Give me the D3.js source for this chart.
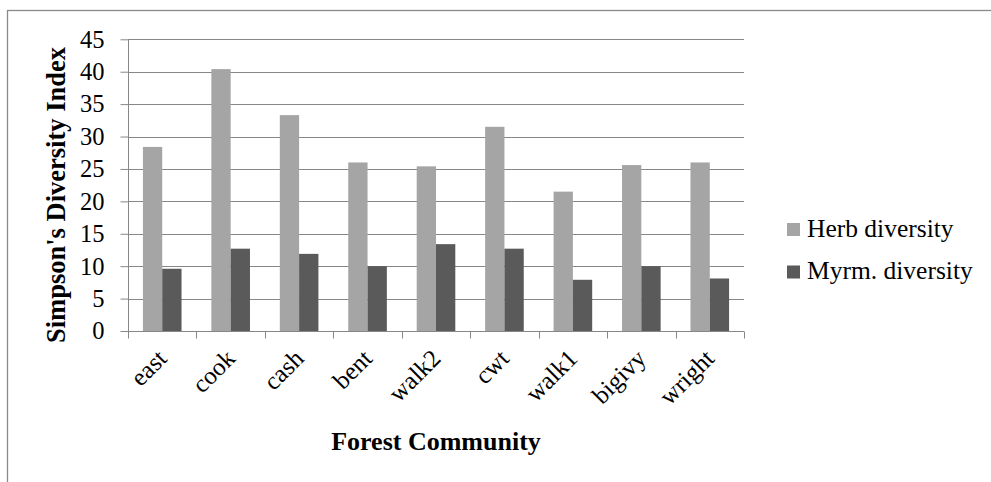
<!DOCTYPE html>
<html>
<head>
<meta charset="utf-8">
<script src="https://cdn.jsdelivr.net/npm/d3@7/dist/d3.min.js"></script>
<style>
  html, body { margin: 0; padding: 0; background: #fff; }
  svg { display: block; }
  text { font-family: "Liberation Serif", "Times New Roman", serif; fill: #000; }
</style>
</head>
<body>
<svg id="chart" width="991" height="482"></svg>
<script>
const categories = ["east", "cook", "cash", "bent", "walk2", "cwt", "walk1", "bigivy", "wright"];
const herbDiversity = [28.4, 40.4, 33.3, 26.0, 25.4, 31.5, 21.5, 25.6, 26.0];
const myrmDiversity = [9.6, 12.7, 11.9, 10.0, 13.4, 12.7, 7.9, 10.0, 8.1];
const seriesNames = ["Herb diversity", "Myrm. diversity"];
const seriesColors = ["#a5a5a5", "#5a5a5a"];
const yTicks = [0, 5, 10, 15, 20, 25, 30, 35, 40, 45];

const FONT = '"Liberation Serif", "Times New Roman", serif';
const svg = d3.select("#chart").attr("font-family", FONT);
const plot = { left: 128, right: 744, top: 39.3, bottom: 331 };
const gridColor = "#878787";

// outer border (only left and top visible in reference)
svg.append("rect")
  .attr("x", 7.5).attr("y", 10.5)
  .attr("width", 1200).attr("height", 1200)
  .attr("fill", "none").attr("stroke", "#8a8a8a").attr("stroke-width", 1.3);

const y = d3.scaleLinear().domain([0, 45]).range([plot.bottom, plot.top]);
const x = d3.scaleBand().domain(categories).range([plot.left, plot.right])
  .paddingInner(1 - 38.6 / 68.44).paddingOuter((1 - 38.6 / 68.44) / 2);
const xs = d3.scaleBand().domain(seriesNames).range([0, x.bandwidth()]).padding(0);
const xTickPos = d3.scaleBand().domain(categories).range([plot.left, plot.right]);

// gridlines
svg.append("g").selectAll("line").data(yTicks.filter(d => d > 0)).join("line")
  .attr("x1", plot.left).attr("x2", plot.right)
  .attr("y1", d => Math.round(y(d)) + 0.5).attr("y2", d => Math.round(y(d)) + 0.5)
  .attr("stroke", gridColor).attr("stroke-width", 1);

// bars
const data = categories.map((c, i) => ({ cat: c, vals: [herbDiversity[i], myrmDiversity[i]] }));
const groups = svg.append("g").selectAll("g").data(data).join("g")
  .attr("transform", d => `translate(${x(d.cat)},0)`);
groups.selectAll("rect").data(d => d.vals.map((v, j) => ({ v, name: seriesNames[j], j }))).join("rect")
  .attr("x", d => xs(d.name))
  .attr("width", xs.bandwidth())
  .attr("y", d => y(d.v))
  .attr("height", d => y(0) - y(d.v))
  .attr("fill", d => seriesColors[d.j]);

// y axis
const yAxis = d3.axisLeft(y).tickValues(yTicks).tickSize(8).tickPadding(16).tickFormat(d3.format("d"));
const gy = svg.append("g").attr("transform", `translate(${plot.left + 0.5},0)`).call(yAxis)
  .attr("font-family", FONT).attr("font-size", 24.5);
gy.select(".domain").attr("stroke", gridColor).attr("d", `M0,${plot.top}V${plot.bottom}`);
gy.selectAll(".tick line").attr("stroke", gridColor);
gy.selectAll(".tick text").attr("fill", "#000");

// x axis
const xAxis = d3.axisBottom(xTickPos).tickSize(0).tickFormat("");
const gx = svg.append("g").attr("transform", `translate(0,${plot.bottom + 0.5})`).call(xAxis);
gx.select(".domain").attr("stroke", gridColor).attr("d", `M${plot.left},0H${plot.right}`);
gx.selectAll(".tick").remove();
const tickEdges = categories.map(c => xTickPos(c)).concat([plot.right]);
gx.selectAll("line.edge").data(tickEdges).join("line").attr("class", "edge")
  .attr("x1", d => Math.round(d) + 0.5).attr("x2", d => Math.round(d) + 0.5)
  .attr("y1", 0).attr("y2", 7).attr("stroke", gridColor);

// x labels rotated
svg.append("g").attr("font-family", FONT).selectAll("text").data(categories).join("text")
  .attr("text-anchor", "end")
  .attr("font-size", 25)
  .attr("transform", d => `translate(${xTickPos(d) + xTickPos.bandwidth() / 2 + 6},${plot.bottom + 29}) rotate(-45)`)
  .text(d => d);

// axis titles
svg.append("text")
  .attr("text-anchor", "middle").attr("font-weight", "bold").attr("font-size", 26)
  .attr("x", (plot.left + plot.right) / 2).attr("y", 450)
  .text("Forest Community");
svg.append("text")
  .attr("text-anchor", "middle").attr("font-weight", "bold").attr("font-size", 26.5)
  .attr("transform", `translate(64.5,195) rotate(-90)`)
  .text("Simpson's Diversity Index");

// legend
const legend = svg.append("g").attr("font-family", FONT).selectAll("g").data(seriesNames).join("g")
  .attr("transform", (d, i) => `translate(787,${223 + i * 42.5})`);
legend.append("rect").attr("width", 13).attr("height", 13).attr("fill", (d, i) => seriesColors[i]);
legend.append("text").attr("x", 20).attr("y", 13.5).attr("font-size", 25.5).text(d => d);
</script>
</body>
</html>
